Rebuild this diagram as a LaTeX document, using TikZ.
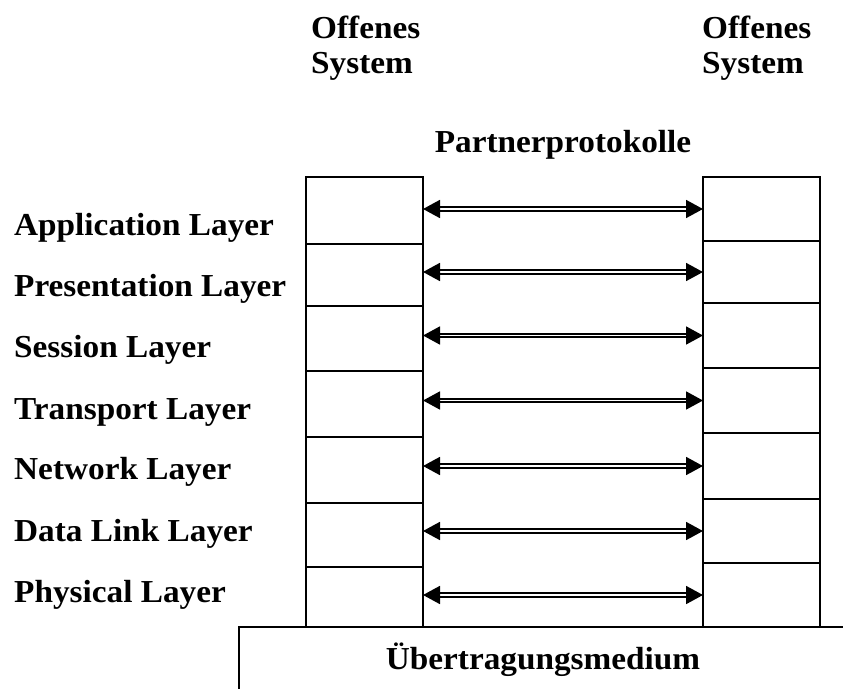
\documentclass[tikz,border=0pt]{standalone}
\usepackage{fontspec}
\setmainfont{Liberation Serif}[FakeStretch=1.04]
\usetikzlibrary{arrows.meta}

\begin{document}
\begin{tikzpicture}[x=1pt,y=-1pt,
    txt/.style={font=\fontsize{32}{35}\selectfont\bfseries, inner sep=0pt},
    cell/.style={draw, line width=1.4pt, minimum width=117pt, inner sep=0pt, outer sep=0pt},
    proto/.style={double, line width=1.8pt, double distance=1.8pt,
        {Triangle[length=17pt,width=18pt]}-{Triangle[length=17pt,width=18pt]}}]
\useasboundingbox (0,0) rectangle (843,688);
\node[txt, align=left, anchor=north west] (sysl) at (311,16) {Offenes\\System};
\node[txt, align=left, anchor=north west] (sysr) at (702,16) {Offenes\\System};
\node[txt, anchor=base] (partner) at (563,152) {Partnerprotokolle};
% Schichten links und rechts
\foreach \i/\lt/\lb/\rt/\rb in {1/177/244/177/241, 2/244/306/241/303, 3/306/371/303/368,
    4/371/437/368/433, 5/437/503/433/499, 6/503/567/499/563, 7/567/627/563/627}
{
    \node[cell, minimum height={(\lb-\lt)*1pt}] (l\i) at (364.5,{(\lt+\lb)/2}) {};
    \node[cell, minimum height={(\rb-\rt)*1pt}] (r\i) at (761.5,{(\rt+\rb)/2}) {};
    \draw[proto] (r\i.west -| l\i.east) -- (r\i.west);
}
\foreach \i/\name/\y in {1/Application/235, 2/Presentation/296, 3/Session/357,
    4/Transport/419, 5/Network/479, 6/Data Link/541, 7/Physical/602}
    \node[txt, anchor=base west] (lab\i) at (14,\y) {\name{} Layer};
% Medium
\draw[line width=1.4pt] (239,692) -- (239,627) -- (847,627);
\node[txt, anchor=base] (medium) at (543,669) {Übertragungsmedium};
\end{tikzpicture}
\end{document}
